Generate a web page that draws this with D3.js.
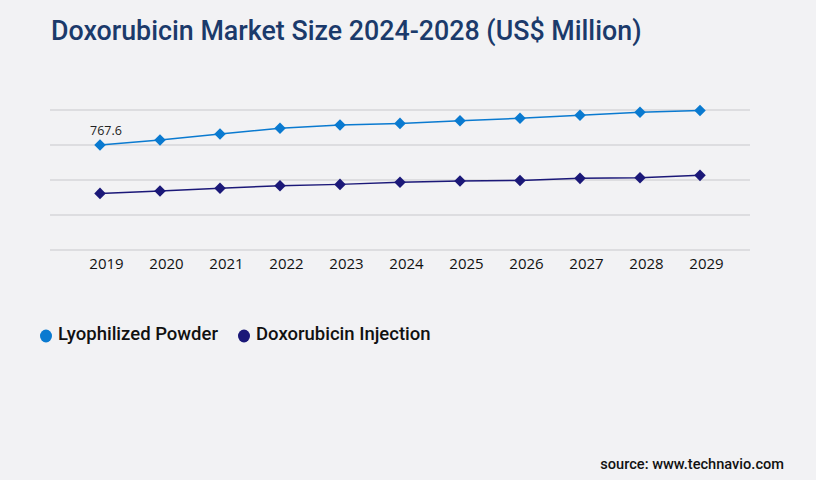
<!DOCTYPE html>
<html>
<head>
<meta charset="utf-8">
<script src="https://cdn.jsdelivr.net/npm/d3@7"></script>
<style>
  body { margin: 0; background: #f2f2f4; }
  svg { display: block; }
</style>
</head>
<body>
<div id="chart"></div>
<script>
const years = ["2019", "2020", "2021", "2022", "2023", "2024", "2025", "2026", "2027", "2028", "2029"];
const lyophilized = [767.6, 804, 848, 890, 914, 926, 945, 963, 985, 1007, 1021];
const injection = [414, 431, 451, 470, 480, 495, 504, 509, 524, 529, 546];
const seriesNames = ["Lyophilized Powder", "Doxorubicin Injection"];
const gridTicks = [0, 256, 512, 768, 1024];

const width = 816;
const height = 480;
const colors = ["#0a7ad0", "#1b1878"];

const svg = d3.select("#chart").append("svg")
  .attr("width", width)
  .attr("height", height);

svg.append("rect")
  .attr("width", width)
  .attr("height", height)
  .attr("fill", "#f2f2f4");

svg.append("text")
  .attr("x", 51)
  .attr("y", 40)
  .attr("fill", "#1b3a6b")
  .attr("font-family", "Roboto")
  .attr("font-weight", 500)
  .attr("font-size", 26.8)
  .text("Doxorubicin Market Size 2024-2028 (US$ Million)");

const x = d3.scalePoint()
  .domain(years)
  .range([50, 750])
  .padding(5 / 6);

const y = d3.scaleLinear()
  .domain([0, 1024])
  .range([250, 110]);

// gridlines
svg.append("g")
  .selectAll("line")
  .data(gridTicks)
  .join("line")
  .attr("x1", 50)
  .attr("x2", 750)
  .attr("y1", d => y(d))
  .attr("y2", d => y(d))
  .attr("stroke", "#c8c8cc")
  .attr("stroke-width", 1);

// x axis labels, shifted a little right of the points like the original
const xAxis = svg.append("g")
  .attr("transform", "translate(6,250)")
  .call(d3.axisBottom(x).tickSize(0).tickPadding(8));
xAxis.select(".domain").remove();
xAxis.selectAll("text")
  .attr("font-family", "Open Sans")
  .attr("font-size", 15)
  .attr("fill", "#111");

const series = [lyophilized, injection];
const line = d3.line()
  .x((d, i) => x(years[i]))
  .y(d => y(d));

const diamond = d3.symbol().type(d3.symbolDiamond2).size(85);

series.forEach((vals, s) => {
  svg.append("path")
    .datum(vals)
    .attr("d", line)
    .attr("fill", "none")
    .attr("stroke", colors[s])
    .attr("stroke-width", 1.5);

  svg.append("g")
    .selectAll("path")
    .data(vals)
    .join("path")
    .attr("d", diamond)
    .attr("transform", (d, i) => `translate(${x(years[i])},${y(d)})`)
    .attr("fill", colors[s]);
});

// first data label
svg.append("text")
  .attr("x", x(years[0]) + 6)
  .attr("y", y(lyophilized[0]) - 10)
  .attr("text-anchor", "middle")
  .attr("font-family", "Open Sans")
  .attr("font-size", 12.5)
  .attr("fill", "#222")
  .text(lyophilized[0]);

// legend
const legendX = [46, 244];
seriesNames.forEach((name, i) => {
  svg.append("ellipse")
    .attr("cx", legendX[i])
    .attr("cy", 336)
    .attr("rx", 6)
    .attr("ry", 6.5)
    .attr("fill", colors[i]);
  svg.append("text")
    .attr("x", legendX[i] + 12)
    .attr("y", 340)
    .attr("font-family", "Roboto")
    .attr("font-weight", 500)
    .attr("font-size", 18.5)
    .attr("fill", "#111")
    .text(name);
});

svg.append("text")
  .attr("x", 784)
  .attr("y", 469)
  .attr("text-anchor", "end")
  .attr("font-family", "Roboto")
  .attr("font-weight", 500)
  .attr("font-size", 14.6)
  .attr("fill", "#111")
  .text("source: www.technavio.com");
</script>
</body>
</html>
